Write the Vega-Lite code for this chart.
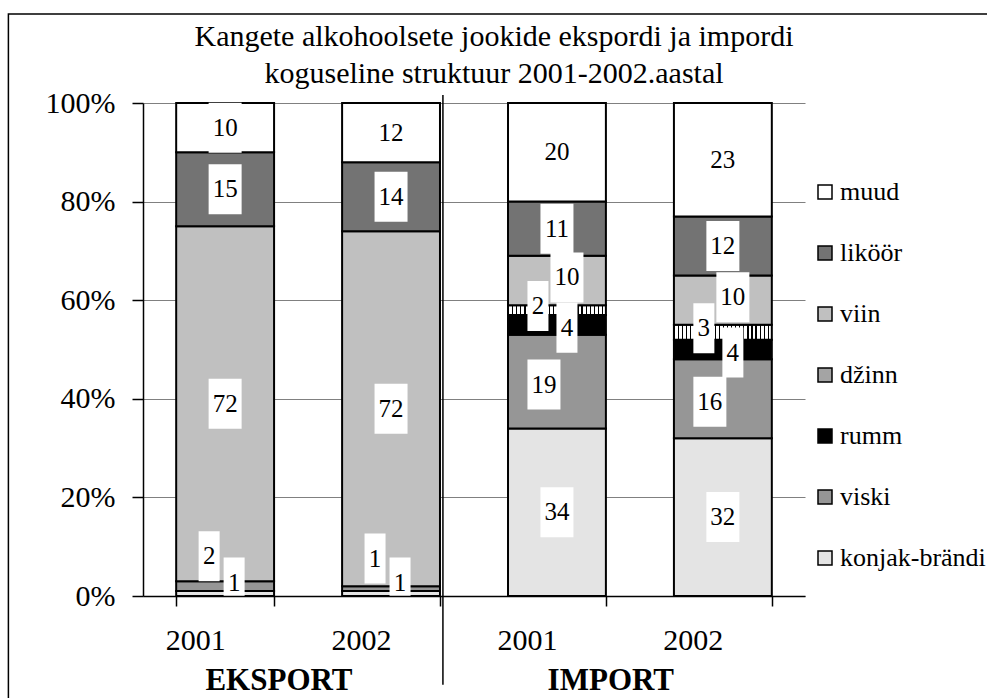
{
  "$schema": "https://vega.github.io/schema/vega-lite/v6.json",
  "width": 662,
  "height": 493,
  "autosize": "none",
  "padding": {"left": 143, "top": 103, "right": 182, "bottom": 102},
  "background": "white",
  "title": {
    "text": ["Kangete alkohoolsete jookide ekspordi ja impordi", "koguseline struktuur 2001-2002.aastal"],
    "font": "Liberation Serif",
    "fontSize": 30,
    "fontWeight": "normal",
    "color": "black",
    "anchor": "middle",
    "frame": "group",
    "dx": 20,
    "offset": -76,
    "lineHeight": 37
  },
  "data": {
    "values": [
      {"bar": "EKSPORT 2001", "market": "EKSPORT", "drink": "konjak-brändi", "k": 1, "value": 1},
      {"bar": "EKSPORT 2001", "market": "EKSPORT", "drink": "viski", "k": 2, "value": 2},
      {"bar": "EKSPORT 2001", "market": "EKSPORT", "drink": "viin", "k": 5, "value": 72},
      {"bar": "EKSPORT 2001", "market": "EKSPORT", "drink": "liköör", "k": 6, "value": 15},
      {"bar": "EKSPORT 2001", "market": "EKSPORT", "drink": "muud", "k": 7, "value": 10},
      {"bar": "EKSPORT 2002", "market": "EKSPORT", "drink": "konjak-brändi", "k": 1, "value": 1},
      {"bar": "EKSPORT 2002", "market": "EKSPORT", "drink": "viski", "k": 2, "value": 1},
      {"bar": "EKSPORT 2002", "market": "EKSPORT", "drink": "viin", "k": 5, "value": 72},
      {"bar": "EKSPORT 2002", "market": "EKSPORT", "drink": "liköör", "k": 6, "value": 14},
      {"bar": "EKSPORT 2002", "market": "EKSPORT", "drink": "muud", "k": 7, "value": 12},
      {"bar": "IMPORT 2001", "market": "IMPORT", "drink": "konjak-brändi", "k": 1, "value": 34},
      {"bar": "IMPORT 2001", "market": "IMPORT", "drink": "viski", "k": 2, "value": 19},
      {"bar": "IMPORT 2001", "market": "IMPORT", "drink": "rumm", "k": 3, "value": 4},
      {"bar": "IMPORT 2001", "market": "IMPORT", "drink": "džinn", "k": 4, "value": 2},
      {"bar": "IMPORT 2001", "market": "IMPORT", "drink": "viin", "k": 5, "value": 10},
      {"bar": "IMPORT 2001", "market": "IMPORT", "drink": "liköör", "k": 6, "value": 11},
      {"bar": "IMPORT 2001", "market": "IMPORT", "drink": "muud", "k": 7, "value": 20},
      {"bar": "IMPORT 2002", "market": "IMPORT", "drink": "konjak-brändi", "k": 1, "value": 32},
      {"bar": "IMPORT 2002", "market": "IMPORT", "drink": "viski", "k": 2, "value": 16},
      {"bar": "IMPORT 2002", "market": "IMPORT", "drink": "rumm", "k": 3, "value": 4},
      {"bar": "IMPORT 2002", "market": "IMPORT", "drink": "džinn", "k": 4, "value": 3},
      {"bar": "IMPORT 2002", "market": "IMPORT", "drink": "viin", "k": 5, "value": 10},
      {"bar": "IMPORT 2002", "market": "IMPORT", "drink": "liköör", "k": 6, "value": 12},
      {"bar": "IMPORT 2002", "market": "IMPORT", "drink": "muud", "k": 7, "value": 23}
    ]
  },
  "layer": [
    {
      "data": {"values": [{"frame": "chart"}]},
      "mark": {"type": "rect", "stroke": "black", "strokeWidth": 1.5, "fillOpacity": 0},
      "encoding": {
        "x": {"datum": "EKSPORT 2001", "type": "nominal", "bandPosition": -1.714, "title": null},
        "x2": {"datum": "IMPORT 2002", "bandPosition": 3.5},
        "y": {"datum": 118.05, "type": "quantitative", "title": null},
        "y2": {"datum": -30}
      }
    },
    {
      "mark": {"type": "bar", "stroke": "black", "strokeWidth": 2},
      "encoding": {
        "x": {
          "field": "bar", "type": "nominal", "title": null,
          "scale": {"domain": ["EKSPORT 2001", "EKSPORT 2002", "IMPORT 2001", "IMPORT 2002"], "paddingInner": 0.41, "paddingOuter": 0.2},
          "axis": {"labelExpr": "slice(datum.label, -4)", "labelAngle": 0, "labelFontSize": 30, "labelFont": "Liberation Serif", "labelPadding": 34, "tickSize": 10, "tickBand": "extent", "domainColor": "black", "domainWidth": 1.5, "tickColor": "black", "tickWidth": 1.5, "labelColor": "black", "title": null}
        },
        "y": {
          "field": "value", "type": "quantitative", "stack": "zero", "title": null,
          "scale": {"domain": [0, 100], "nice": false},
          "axis": {"values": [0, 20, 40, 60, 80, 100], "labelExpr": "datum.value + '%'", "labelFontSize": 30, "labelFont": "Liberation Serif", "labelPadding": 17, "tickSize": 11, "domainColor": "black", "domainWidth": 1.5, "tickColor": "black", "tickWidth": 1.5, "grid": true, "gridColor": "#808080", "gridWidth": 1.2, "labelColor": "black", "title": null}
        },
        "color": {
          "condition": {
            "test": "datum.drink === 'džinn'",
            "value": {
              "gradient": "linear", "x1": 0, "y1": 0, "x2": 1, "y2": 0,
              "stops": [
                {"offset": 0, "color": "black"}, {"offset": 0.0125, "color": "black"}, {"offset": 0.0125, "color": "white"}, {"offset": 0.0417, "color": "white"},
                {"offset": 0.0417, "color": "black"}, {"offset": 0.0542, "color": "black"}, {"offset": 0.0542, "color": "white"}, {"offset": 0.0833, "color": "white"},
                {"offset": 0.0833, "color": "black"}, {"offset": 0.0958, "color": "black"}, {"offset": 0.0958, "color": "white"}, {"offset": 0.125, "color": "white"},
                {"offset": 0.125, "color": "black"}, {"offset": 0.1375, "color": "black"}, {"offset": 0.1375, "color": "white"}, {"offset": 0.1667, "color": "white"},
                {"offset": 0.1667, "color": "black"}, {"offset": 0.1792, "color": "black"}, {"offset": 0.1792, "color": "white"}, {"offset": 0.2083, "color": "white"},
                {"offset": 0.2083, "color": "black"}, {"offset": 0.2208, "color": "black"}, {"offset": 0.2208, "color": "white"}, {"offset": 0.25, "color": "white"},
                {"offset": 0.25, "color": "black"}, {"offset": 0.2625, "color": "black"}, {"offset": 0.2625, "color": "white"}, {"offset": 0.2917, "color": "white"},
                {"offset": 0.2917, "color": "black"}, {"offset": 0.3042, "color": "black"}, {"offset": 0.3042, "color": "white"}, {"offset": 0.3333, "color": "white"},
                {"offset": 0.3333, "color": "black"}, {"offset": 0.3458, "color": "black"}, {"offset": 0.3458, "color": "white"}, {"offset": 0.375, "color": "white"},
                {"offset": 0.375, "color": "black"}, {"offset": 0.3875, "color": "black"}, {"offset": 0.3875, "color": "white"}, {"offset": 0.4167, "color": "white"},
                {"offset": 0.4167, "color": "black"}, {"offset": 0.4292, "color": "black"}, {"offset": 0.4292, "color": "white"}, {"offset": 0.4583, "color": "white"},
                {"offset": 0.4583, "color": "black"}, {"offset": 0.4708, "color": "black"}, {"offset": 0.4708, "color": "white"}, {"offset": 0.5, "color": "white"},
                {"offset": 0.5, "color": "black"}, {"offset": 0.5125, "color": "black"}, {"offset": 0.5125, "color": "white"}, {"offset": 0.5417, "color": "white"},
                {"offset": 0.5417, "color": "black"}, {"offset": 0.5542, "color": "black"}, {"offset": 0.5542, "color": "white"}, {"offset": 0.5833, "color": "white"},
                {"offset": 0.5833, "color": "black"}, {"offset": 0.5958, "color": "black"}, {"offset": 0.5958, "color": "white"}, {"offset": 0.625, "color": "white"},
                {"offset": 0.625, "color": "black"}, {"offset": 0.6375, "color": "black"}, {"offset": 0.6375, "color": "white"}, {"offset": 0.6667, "color": "white"},
                {"offset": 0.6667, "color": "black"}, {"offset": 0.6792, "color": "black"}, {"offset": 0.6792, "color": "white"}, {"offset": 0.7083, "color": "white"},
                {"offset": 0.7083, "color": "black"}, {"offset": 0.7208, "color": "black"}, {"offset": 0.7208, "color": "white"}, {"offset": 0.75, "color": "white"},
                {"offset": 0.75, "color": "black"}, {"offset": 0.7625, "color": "black"}, {"offset": 0.7625, "color": "white"}, {"offset": 0.7917, "color": "white"},
                {"offset": 0.7917, "color": "black"}, {"offset": 0.8042, "color": "black"}, {"offset": 0.8042, "color": "white"}, {"offset": 0.8333, "color": "white"},
                {"offset": 0.8333, "color": "black"}, {"offset": 0.8458, "color": "black"}, {"offset": 0.8458, "color": "white"}, {"offset": 0.875, "color": "white"},
                {"offset": 0.875, "color": "black"}, {"offset": 0.8875, "color": "black"}, {"offset": 0.8875, "color": "white"}, {"offset": 0.9167, "color": "white"},
                {"offset": 0.9167, "color": "black"}, {"offset": 0.9292, "color": "black"}, {"offset": 0.9292, "color": "white"}, {"offset": 0.9583, "color": "white"},
                {"offset": 0.9583, "color": "black"}, {"offset": 0.9708, "color": "black"}, {"offset": 0.9708, "color": "white"}, {"offset": 1, "color": "white"}
              ]
            }
          },
          "field": "drink", "type": "nominal",
          "scale": {"domain": ["muud", "liköör", "viin", "džinn", "rumm", "viski", "konjak-brändi"], "range": ["#ffffff", "#737373", "#c0c0c0", "#a4a4a4", "#000000", "#969696", "#e4e4e4"]},
          "legend": {"orient": "none", "legendX": 669, "legendY": 76, "title": null, "symbolType": "square", "symbolSize": 196, "symbolStrokeColor": "black", "symbolStrokeWidth": 1.5, "symbolOpacity": 1, "labelFontSize": 26, "labelFont": "Liberation Serif", "labelColor": "black", "labelOffset": 2, "rowPadding": 35, "padding": 0}
        },
        "order": {"field": "k", "type": "quantitative"}
      }
    },
    {
      "data": {"values": [{"line": "separator"}]},
      "mark": {"type": "rule", "stroke": "black", "strokeWidth": 1.5},
      "encoding": {
        "x": {"datum": "EKSPORT 2002", "type": "nominal", "bandPosition": 1.03, "title": null},
        "y": {"datum": 101.6, "type": "quantitative", "title": null},
        "y2": {"datum": -18}
      }
    },
    {
      "data": {"values": [{"group": "EKSPORT", "bar": "EKSPORT 2001"}, {"group": "IMPORT", "bar": "IMPORT 2001"}]},
      "mark": {"type": "text", "font": "Liberation Serif", "fontSize": 31, "fontWeight": "bold", "baseline": "alphabetic", "align": "center", "color": "black"},
      "encoding": {
        "x": {"field": "bar", "type": "nominal", "bandPosition": 1.05, "title": null},
        "y": {"datum": -19.1, "type": "quantitative", "title": null},
        "text": {"field": "group"}
      }
    },
    {
      "encoding": {
        "x": {"field": "bar", "type": "nominal", "title": null},
        "y": {"field": "value", "type": "quantitative", "stack": "zero", "bandPosition": 0.5, "title": null},
        "order": {"field": "k", "type": "quantitative"},
        "detail": {"field": "drink"},
        "shape": {"condition": {"test": "datum.value < 10", "value": "M-0.42,-1H0.42V1H-0.42Z"}, "value": "M-0.66,-1H0.66V1H-0.66Z"}
      },
      "layer": [
        {"mark": {"type": "point", "filled": true, "color": "white", "strokeWidth": 0, "size": 2500},
         "encoding": {"opacity": {"condition": {"test": "datum.drink==='muud' || datum.drink==='liköör' || (datum.drink==='viin' && datum.market==='EKSPORT') || (datum.drink==='konjak-brändi' && datum.market==='IMPORT')", "value": 1}, "value": 0}}},
        {"mark": {"type": "text", "font": "Liberation Serif", "fontSize": 25, "baseline": "middle", "color": "black"},
         "encoding": {"text": {"condition": {"test": "datum.drink==='muud' || datum.drink==='liköör' || (datum.drink==='viin' && datum.market==='EKSPORT') || (datum.drink==='konjak-brändi' && datum.market==='IMPORT')", "field": "value", "type": "quantitative"}, "value": ""}}},
        {"mark": {"type": "point", "filled": true, "color": "white", "strokeWidth": 0, "size": 2500, "xOffset": -19, "yOffset": -4},
         "encoding": {"opacity": {"condition": {"test": "datum.drink==='džinn'", "value": 1}, "value": 0}}},
        {"mark": {"type": "text", "font": "Liberation Serif", "fontSize": 25, "baseline": "middle", "color": "black", "dx": -19, "dy": -4},
         "encoding": {"text": {"condition": {"test": "datum.drink==='džinn'", "field": "value", "type": "quantitative"}, "value": ""}}},
        {"mark": {"type": "point", "filled": true, "color": "white", "strokeWidth": 0, "size": 2500, "xOffset": 10, "yOffset": 3},
         "encoding": {"opacity": {"condition": {"test": "datum.drink==='rumm'", "value": 1}, "value": 0}}},
        {"mark": {"type": "text", "font": "Liberation Serif", "fontSize": 25, "baseline": "middle", "color": "black", "dx": 10, "dy": 3},
         "encoding": {"text": {"condition": {"test": "datum.drink==='rumm'", "field": "value", "type": "quantitative"}, "value": ""}}},
        {"mark": {"type": "point", "filled": true, "color": "white", "strokeWidth": 0, "size": 2500, "xOffset": 10, "yOffset": -3},
         "encoding": {"opacity": {"condition": {"test": "datum.drink==='viin' && datum.market==='IMPORT'", "value": 1}, "value": 0}}},
        {"mark": {"type": "text", "font": "Liberation Serif", "fontSize": 25, "baseline": "middle", "color": "black", "dx": 10, "dy": -3},
         "encoding": {"text": {"condition": {"test": "datum.drink==='viin' && datum.market==='IMPORT'", "field": "value", "type": "quantitative"}, "value": ""}}},
        {"mark": {"type": "point", "filled": true, "color": "white", "strokeWidth": 0, "size": 2500, "xOffset": -13, "yOffset": 3},
         "encoding": {"opacity": {"condition": {"test": "datum.drink==='viski' && datum.market==='IMPORT'", "value": 1}, "value": 0}}},
        {"mark": {"type": "text", "font": "Liberation Serif", "fontSize": 25, "baseline": "middle", "color": "black", "dx": -13, "dy": 3},
         "encoding": {"text": {"condition": {"test": "datum.drink==='viski' && datum.market==='IMPORT'", "field": "value", "type": "quantitative"}, "value": ""}}},
        {"mark": {"type": "point", "filled": true, "color": "white", "strokeWidth": 0, "size": 2500, "xOffset": -16, "yOffset": -30},
         "encoding": {"opacity": {"condition": {"test": "datum.drink==='viski' && datum.market==='EKSPORT'", "value": 1}, "value": 0}}},
        {"mark": {"type": "text", "font": "Liberation Serif", "fontSize": 25, "baseline": "middle", "color": "black", "dx": -16, "dy": -30},
         "encoding": {"text": {"condition": {"test": "datum.drink==='viski' && datum.market==='EKSPORT'", "field": "value", "type": "quantitative"}, "value": ""}}},
        {"mark": {"type": "point", "filled": true, "color": "white", "strokeWidth": 0, "size": 2500, "xOffset": 9, "yOffset": -11},
         "encoding": {"opacity": {"condition": {"test": "datum.drink==='konjak-brändi' && datum.market==='EKSPORT'", "value": 1}, "value": 0}}},
        {"mark": {"type": "text", "font": "Liberation Serif", "fontSize": 25, "baseline": "middle", "color": "black", "dx": 9, "dy": -11},
         "encoding": {"text": {"condition": {"test": "datum.drink==='konjak-brändi' && datum.market==='EKSPORT'", "field": "value", "type": "quantitative"}, "value": ""}}}
      ]
    }
  ],
  "config": {
    "font": "Liberation Serif",
    "view": {"stroke": null},
    "axis": {"labelFont": "Liberation Serif"},
    "legend": {"labelFont": "Liberation Serif"},
    "text": {"font": "Liberation Serif"}
  }
}
